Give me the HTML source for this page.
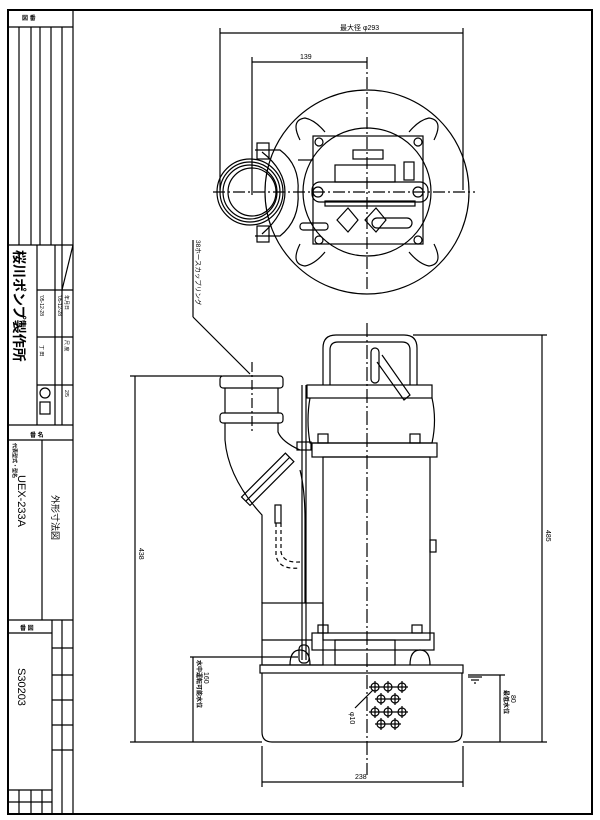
<!DOCTYPE html>
<html><head><meta charset="utf-8"><style>
html,body{margin:0;padding:0;background:#fff;}
svg{display:block;}
text{font-family:"Liberation Sans","Noto Sans CJK JP",sans-serif;fill:#000;}
</style></head><body>
<svg width="600" height="820" viewBox="0 0 600 820" xmlns="http://www.w3.org/2000/svg">
<g fill="none" stroke="#000" stroke-width="1.2">
<!-- frame -->
<rect x="8" y="10" width="584" height="804" stroke-width="2"/>
<line x1="73" y1="10" x2="73" y2="814" stroke-width="1.2"/>
<!-- title block -->
<line x1="8" y1="27" x2="73" y2="27"/>
<line x1="19" y1="27" x2="19" y2="245"/>
<line x1="31" y1="27" x2="31" y2="245"/>
<line x1="40" y1="27" x2="40" y2="245"/>
<line x1="51" y1="27" x2="51" y2="245"/>
<line x1="62" y1="27" x2="62" y2="245"/>
<line x1="8" y1="245" x2="73" y2="245"/>
<line x1="37" y1="245" x2="37" y2="425"/>
<line x1="55" y1="245" x2="55" y2="425"/>
<line x1="62" y1="245" x2="62" y2="425"/>
<line x1="37" y1="290" x2="73" y2="290"/>
<line x1="37" y1="337" x2="73" y2="337"/>
<line x1="37" y1="385" x2="73" y2="385"/>
<line x1="62" y1="290" x2="73" y2="245"/>
<line x1="8" y1="425" x2="73" y2="425"/>
<line x1="8" y1="440" x2="73" y2="440"/>
<line x1="42" y1="440" x2="42" y2="620"/>
<line x1="8" y1="620" x2="73" y2="620"/>
<line x1="8" y1="633" x2="52" y2="633"/>
<line x1="52" y1="620" x2="52" y2="814"/>
<line x1="62" y1="620" x2="62" y2="814"/>
<line x1="52" y1="648" x2="73" y2="648"/>
<line x1="52" y1="675" x2="73" y2="675"/>
<line x1="52" y1="700" x2="73" y2="700"/>
<line x1="52" y1="725" x2="73" y2="725"/>
<line x1="52" y1="750" x2="73" y2="750"/>
<line x1="8" y1="790" x2="52" y2="790"/>
<line x1="8" y1="802" x2="52" y2="802"/>
<line x1="19" y1="790" x2="19" y2="814"/>
<line x1="31" y1="790" x2="31" y2="814"/>
<line x1="42" y1="790" x2="42" y2="814"/>
<circle cx="45" cy="393" r="5"/>
<rect x="40" y="402" width="10" height="12"/>

<!-- TOP VIEW -->
<line x1="220" y1="33" x2="463" y2="33"/>
<line x1="220" y1="28" x2="220" y2="190"/>
<line x1="463" y1="28" x2="463" y2="190"/>
<line x1="252" y1="62" x2="367" y2="62"/>
<line x1="252" y1="57" x2="252" y2="195"/>
<line x1="367" y1="57" x2="367" y2="290" stroke-dasharray="12,3,2,3"/>
<line x1="213" y1="192" x2="475" y2="192" stroke-dasharray="12,3,2,3"/>
<circle cx="367" cy="192" r="102"/>
<circle cx="367" cy="192" r="64"/>
<path d="M300 140 Q290 120 305 118 Q315 120 325 132"/>
<path d="M434 140 Q444 120 429 118 Q419 120 409 132"/>
<path d="M300 244 Q290 264 305 266 Q315 264 325 252"/>
<path d="M434 244 Q444 264 429 266 Q419 264 409 252"/>
<rect x="313" y="136" width="110" height="108"/>
<circle cx="319" cy="142" r="4"/><circle cx="418" cy="142" r="4"/>
<circle cx="319" cy="240" r="4"/><circle cx="418" cy="240" r="4"/>
<rect x="353" y="150" width="30" height="9"/>
<rect x="335" y="165" width="60" height="17"/>
<rect x="404" y="162" width="10" height="18"/>
<rect x="312" y="182" width="116" height="20" rx="8"/>
<circle cx="318" cy="192" r="5"/><circle cx="418" cy="192" r="5"/>
<rect x="325" y="201" width="90" height="5"/>
<path d="M337 220 L348 208 L358 220 L348 232 Z"/>
<path d="M365 220 L376 208 L386 220 L376 232 Z"/>
<rect x="300" y="223" width="28" height="7" rx="3"/>
<rect x="372" y="218" width="40" height="10" rx="5"/>
<circle cx="250" cy="192" r="33"/>
<circle cx="250" cy="192" r="30"/>
<circle cx="250" cy="192" r="27"/>
<circle cx="252" cy="192" r="24"/>
<path d="M255 150 L280 150 Q300 165 298 192 Q300 220 280 236 L255 236"/>
<path d="M262 152 Q285 170 285 192 Q285 214 262 234"/>
<rect x="257" y="143" width="12" height="16"/>
<rect x="257" y="226" width="12" height="16"/>
<line x1="298" y1="160" x2="313" y2="160"/>

<!-- SIDE VIEW -->
<line x1="367" y1="323" x2="367" y2="775" stroke-dasharray="14,3,2,3"/>
<line x1="252" y1="362" x2="252" y2="432" stroke-dasharray="10,3,2,3"/>
<!-- handle -->
<path d="M323 385 L323 348 Q323 335 336 335 L404 335 Q417 335 417 348 L417 385"/>
<path d="M330 385 L330 350 Q330 342 338 342 L402 342 Q410 342 410 350 L410 385"/>
<rect x="371" y="348" width="8" height="35" rx="4"/>
<path d="M382 355 L410 395 L404 400 L377 362"/>
<!-- upper housing -->
<rect x="307" y="385" width="125" height="13"/>
<path d="M310 398 Q306 420 310 443 L432 443 Q437 420 432 398"/>
<rect x="312" y="443" width="125" height="14"/>
<rect x="318" y="434" width="10" height="9"/><rect x="410" y="434" width="10" height="9"/>
<!-- motor body -->
<rect x="323" y="457" width="107" height="183"/>
<rect x="430" y="540" width="6" height="12"/>
<rect x="312" y="633" width="122" height="17"/>
<rect x="318" y="625" width="10" height="8"/><rect x="412" y="625" width="10" height="8"/>
<rect x="335" y="640" width="60" height="25"/>
<path d="M290 665 Q290 650 300 650 Q310 650 310 665"/>
<path d="M410 665 Q410 650 420 650 Q430 650 430 665"/>
<!-- left lower body -->
<rect x="262" y="603" width="61" height="62"/>
<line x1="262" y1="640" x2="312" y2="640"/>
<!-- base -->
<rect x="260" y="665" width="203" height="8"/>
<path d="M262 673 L262 732 Q262 742 272 742 L452 742 Q462 742 462 732 L462 673"/>
<!-- discharge pipe -->
<rect x="220" y="376" width="63" height="12" rx="3"/>
<line x1="225" y1="388" x2="225" y2="413"/>
<line x1="278" y1="388" x2="278" y2="413"/>
<rect x="220" y="413" width="63" height="10" rx="3"/>
<path d="M225 423 L225 440 Q228 478 262 515 L262 603"/>
<path d="M278 423 L278 432 Q282 442 300 450"/>
<path d="M300 470 Q305 490 305 520 L305 603" />
<g transform="rotate(-45 267 480)">
<rect x="237" y="474" width="62" height="12"/>
<line x1="237" y1="480" x2="299" y2="480"/>
</g>
<rect x="275" y="505" width="6" height="18"/>
<path d="M276 523 L276 555 Q278 570 300 568" stroke-dasharray="4,3"/>
<path d="M281 523 L281 552 Q283 563 300 562" stroke-dasharray="4,3"/>
<!-- cable -->
<line x1="302" y1="385" x2="302" y2="660"/>
<line x1="306" y1="385" x2="306" y2="660"/>
<rect x="297" y="442" width="14" height="8"/>
<rect x="299" y="645" width="10" height="18" rx="4"/>
<!-- strainer holes -->
<g>
<circle cx="375" cy="687" r="4"/><circle cx="388" cy="687" r="4"/><circle cx="402" cy="687" r="4"/>
<circle cx="381" cy="699" r="4"/><circle cx="395" cy="699" r="4"/>
<circle cx="375" cy="712" r="4"/><circle cx="388" cy="712" r="4"/><circle cx="402" cy="712" r="4"/>
<circle cx="381" cy="724" r="4"/><circle cx="395" cy="724" r="4"/>
<path d="M369 687h39M375 681v12M388 681v12M402 681v12M375 699h26M381 693v12M395 693v12M369 712h39M375 706v12M388 706v12M402 706v12M375 724h26M381 718v12M395 718v12"/>
</g>
<line x1="373" y1="690" x2="355" y2="708"/>
<!-- dims -->
<line x1="413" y1="335" x2="547" y2="335"/>
<line x1="463" y1="742" x2="547" y2="742"/>
<line x1="542" y1="335" x2="542" y2="742"/>
<line x1="130" y1="376" x2="222" y2="376"/>
<line x1="130" y1="742" x2="262" y2="742"/>
<line x1="135" y1="376" x2="135" y2="742"/>
<line x1="190" y1="657" x2="298" y2="657"/>
<line x1="193" y1="657" x2="193" y2="742"/>
<line x1="468" y1="675" x2="505" y2="675"/>
<line x1="500" y1="675" x2="500" y2="742"/>
<line x1="468" y1="677" x2="482" y2="677"/><line x1="471" y1="680" x2="479" y2="680"/><line x1="474" y1="683" x2="476" y2="683"/>
<line x1="262" y1="746" x2="262" y2="787"/>
<line x1="463" y1="746" x2="463" y2="787"/>
<line x1="262" y1="782" x2="463" y2="782"/>
<!-- leader -->
<line x1="193" y1="240" x2="193" y2="317"/>
<line x1="193" y1="317" x2="250" y2="374"/>
</g>
<!-- text -->
<g font-size="7">
<text x="340" y="30">最大径 φ293</text>
<text x="300" y="59">139</text>
<text x="355" y="779">238</text>
<text x="22" y="20" font-size="6" font-weight="bold">図 番</text>
<text x="30" y="437" font-size="6" font-weight="bold">番 名</text>
<text x="20" y="630" font-size="6" font-weight="bold">番 図</text>
</g>
<g font-size="7">
<text transform="translate(139,548) rotate(90)">438</text>
<text transform="translate(546,530) rotate(90)">485</text>
<text transform="translate(197,660) rotate(90)" font-size="6" font-weight="bold">水中運転可能水位</text>
<text transform="translate(204,672) rotate(90)">160</text>
<text transform="translate(504,690) rotate(90)" font-size="6" font-weight="bold">最低水位</text>
<text transform="translate(511,695) rotate(90)">80</text>
<text transform="translate(350,712) rotate(90)">φ10</text>
<text transform="translate(196,240) rotate(90)" font-size="6.5">38ホースカップリング</text>
<text transform="translate(14,250) rotate(90)" font-size="14" font-weight="bold">桜川ポンプ製作所</text>
<text transform="translate(18,475) rotate(90)" font-size="11">UEX-233A</text>
<text transform="translate(52,495) rotate(90)" font-size="9">外形寸法図</text>
<text transform="translate(18,668) rotate(90)" font-size="11">S30203</text>
<text transform="translate(13,443) rotate(90)" font-size="5" font-weight="bold">代表型式・型名</text>
<text transform="translate(40,295) rotate(90)" font-size="5">'05-12-28</text>
<text transform="translate(58,295) rotate(90)" font-size="5">'05-12-28</text>
<text transform="translate(65,295) rotate(90)" font-size="5">年月日</text>
<text transform="translate(65,390) rotate(90)" font-size="5">2/5</text>
<text transform="translate(65,340) rotate(90)" font-size="5">尺 度</text>
<text transform="translate(40,345) rotate(90)" font-size="5">丁 田</text>
</g>
</svg>
</body></html>
